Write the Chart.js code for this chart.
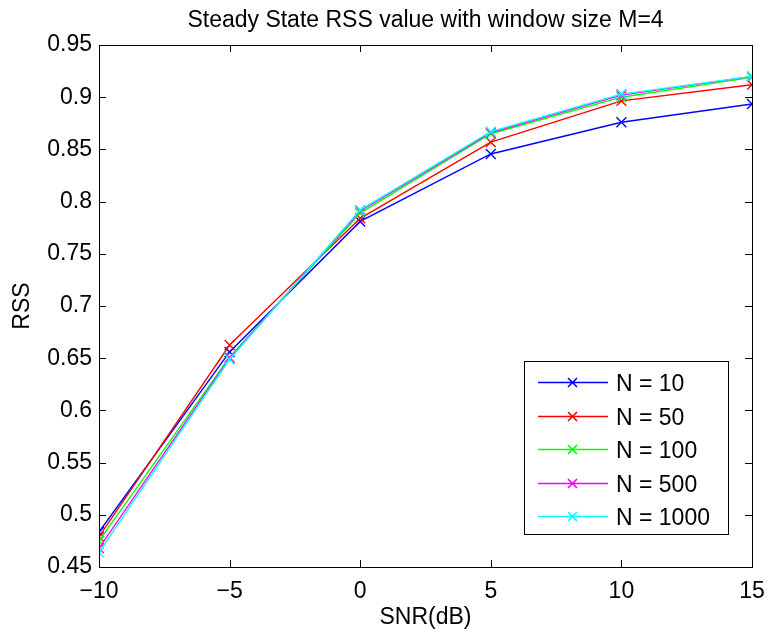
<!DOCTYPE html>
<html>
<head>
<meta charset="utf-8">
<script src="https://cdn.jsdelivr.net/npm/chart.js@4/dist/chart.umd.min.js"></script>
<style>
html,body{margin:0;padding:0;background:#fff;}
#wrap{width:768px;height:634px;position:relative;}
</style>
</head>
<body>
<div id="wrap"><canvas id="c" width="768" height="634"></canvas></div>
<script>
const snr = [-10, -5, 0, 5, 10, 15];
const labels = ['N = 10', 'N = 50', 'N = 100', 'N = 500', 'N = 1000'];
const colors = ['#0000ff', '#ff0000', '#00ff00', '#ff00ff', '#00ffff'];
const rssN10   = [0.4835, 0.656, 0.781, 0.8456, 0.876, 0.8935];
const rssN50   = [0.479, 0.6626, 0.784, 0.857, 0.8965, 0.912];
const rssN100  = [0.475, 0.651, 0.789, 0.865, 0.900, 0.919];
const rssN500  = [0.468, 0.650, 0.791, 0.866, 0.902, 0.920];
const rssN1000 = [0.464, 0.649, 0.792, 0.867, 0.903, 0.920];
const series = [rssN10, rssN50, rssN100, rssN500, rssN1000];
const titleText = 'Steady State RSS value with window size M=4';
const xTitle = 'SNR(dB)';
const yTitle = 'RSS';
const FONT = '"Liberation Sans", Arial, Helvetica, sans-serif';
const FS = 23;

const datasets = series.map((vals, i) => ({
  label: labels[i],
  data: vals.map((v, j) => ({x: snr[j], y: v})),
  borderColor: colors[i],
  backgroundColor: colors[i],
  borderWidth: 1.4,
  pointStyle: 'crossRot',
  pointRadius: 7,
  pointBorderWidth: 1.4,
  pointHoverRadius: 7,
  order: series.length - i,
  tension: 0
}));

const boxPlugin = {
  id: 'boxPlugin',
  afterDraw(chart) {
    const ctx = chart.ctx;
    const a = chart.chartArea;
    const xs = chart.scales.x, ys = chart.scales.y;
    ctx.save();
    ctx.strokeStyle = '#000';
    ctx.lineWidth = 1;
    ctx.strokeRect(Math.round(a.left) + 0.5, Math.round(a.top) + 0.5, Math.round(a.right - a.left), Math.round(a.bottom - a.top));
    const tl = 7;
    ctx.beginPath();
    xs.ticks.forEach(t => {
      const px = Math.round(xs.getPixelForValue(t.value)) + 0.5;
      ctx.moveTo(px, a.bottom); ctx.lineTo(px, a.bottom - tl);
      ctx.moveTo(px, a.top); ctx.lineTo(px, a.top + tl);
    });
    ys.ticks.forEach(t => {
      const py = Math.round(ys.getPixelForValue(t.value)) + 0.5;
      ctx.moveTo(a.left, py); ctx.lineTo(a.left + tl, py);
      ctx.moveTo(a.right, py); ctx.lineTo(a.right - tl, py);
    });
    ctx.stroke();

    // title
    ctx.fillStyle = '#000';
    ctx.font = FS + 'px ' + FONT;
    ctx.textAlign = 'center';
    ctx.textBaseline = 'alphabetic';
    ctx.fillText(titleText, (a.left + a.right) / 2, 27);

    // legend
    const lx = 524, ly = 361, lw = 204, lh = 173;
    ctx.fillStyle = '#fff';
    ctx.fillRect(lx, ly, lw, lh);
    ctx.strokeStyle = '#000';
    ctx.lineWidth = 1;
    ctx.strokeRect(lx + 0.5, ly + 0.5, lw, lh);
    ctx.font = FS + 'px ' + FONT;
    ctx.textAlign = 'left';
    ctx.textBaseline = 'alphabetic';
    chart.data.datasets.forEach((ds, i) => {
      const y = Math.round(ly + 21 + i * 33.6) + 0.5;
      ctx.strokeStyle = ds.borderColor;
      ctx.lineWidth = 1.6;
      ctx.beginPath();
      ctx.moveTo(538, y); ctx.lineTo(608, y);
      ctx.moveTo(568, y - 4.5); ctx.lineTo(577, y + 4.5);
      ctx.moveTo(568, y + 4.5); ctx.lineTo(577, y - 4.5);
      ctx.stroke();
      ctx.fillStyle = '#000';
      ctx.fillText(ds.label, 616, y + 8);
    });
    ctx.restore();
  }
};

new Chart(document.getElementById('c'), {
  type: 'line',
  data: { datasets },
  options: {
    responsive: false,
    animation: false,
    events: [],
    layout: { padding: { top: 45, left: 0, right: 16, bottom: 0 } },
    plugins: { legend: { display: false }, tooltip: { enabled: false }, title: { display: false } },
    scales: {
      x: {
        type: 'linear', min: -10, max: 15,
        afterFit(s) { s.height = 67; s.paddingLeft = 0; s.paddingRight = 0; },
        grid: { display: false, drawTicks: false },
        border: { display: false },
        ticks: {
          stepSize: 5, color: '#000', padding: 11,
          font: { family: FONT, size: FS },
          callback: v => String(v).replace('-', '\u2212')
        },
        title: { display: true, text: xTitle, color: '#000', font: { family: FONT, size: FS }, padding: { top: 0, bottom: 3 } }
      },
      y: {
        type: 'linear', min: 0.45, max: 0.95,
        afterFit(s) { s.width = 99; s.paddingTop = 0; s.paddingBottom = 0; },
        grid: { display: false, drawTicks: false },
        border: { display: false },
        ticks: {
          stepSize: 0.05, color: '#000', padding: 7,
          font: { family: FONT, size: FS },
          callback: v => String(Number(v.toFixed(2)))
        },
        title: { display: true, text: yTitle, color: '#000', font: { family: FONT, size: FS }, padding: { top: 9, bottom: 0 } }
      }
    }
  },
  plugins: [boxPlugin]
});
</script>
</body>
</html>
